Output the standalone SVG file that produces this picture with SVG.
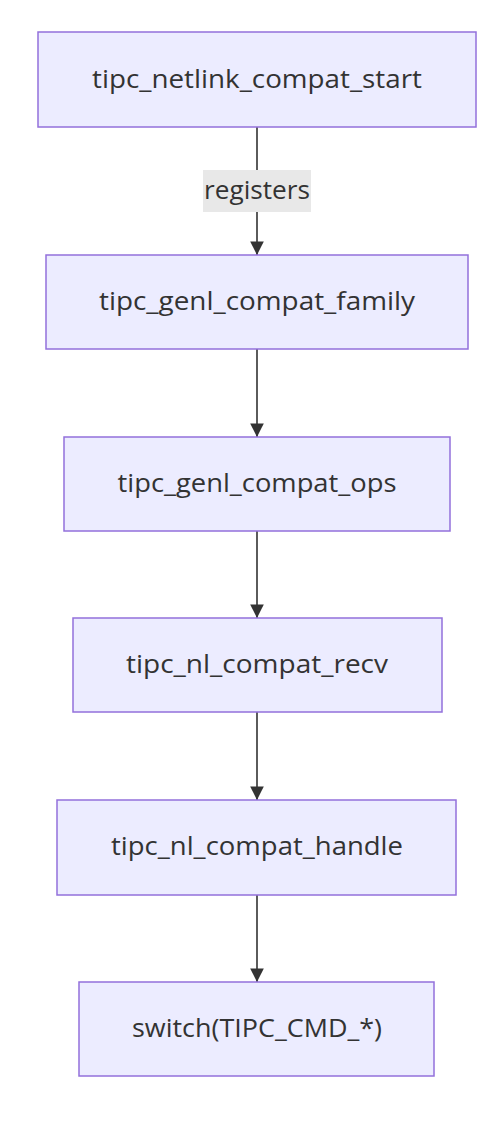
<svg xmlns="http://www.w3.org/2000/svg" width="486" height="1126" viewBox="0 0 486 1126">
<defs>
<style>
.node rect{fill:#ECECFF;stroke:#9370DB;stroke-width:1.5}
.node text,.lbl text{font-family:"Open Sans","DejaVu Sans",sans-serif;font-size:25px;fill:#333;text-anchor:middle}
.edge{stroke:#333;stroke-width:1.6;fill:none;marker-end:url(#arrow)}
.lbl rect{fill:#e8e8e8}
</style>
<marker id="arrow" viewBox="0 0 10 10" refX="10" refY="5" markerWidth="8.5" markerHeight="8.5" markerUnits="strokeWidth" orient="auto">
<path d="M0,0 L10,5 L0,10 z" fill="#333"/>
</marker>
</defs>
<rect width="486" height="1126" fill="#fff"/>
<g id="connectors">
<path class="edge" d="M257,127 V255"/>
<path class="edge" d="M257,349 V437"/>
<path class="edge" d="M257,531 V618"/>
<path class="edge" d="M257,712 V800"/>
<path class="edge" d="M257,895 V982"/>
<g class="lbl"><rect x="203" y="170" width="108" height="42"/><text x="257" y="199" textLength="106" lengthAdjust="spacingAndGlyphs">registers</text></g>
</g>
<g id="n1" class="node"><rect x="38" y="32" width="438" height="95"/><text x="257" y="88" textLength="330" lengthAdjust="spacingAndGlyphs">tipc_netlink_compat_start</text></g>
<g id="n2" class="node"><rect x="46" y="255" width="422" height="94"/><text x="257" y="310" textLength="316" lengthAdjust="spacingAndGlyphs">tipc_genl_compat_family</text></g>
<g id="n3" class="node"><rect x="64" y="437" width="386" height="94"/><text x="257" y="492" textLength="279" lengthAdjust="spacingAndGlyphs">tipc_genl_compat_ops</text></g>
<g id="n4" class="node"><rect x="73" y="618" width="369" height="94"/><text x="257" y="673" textLength="262" lengthAdjust="spacingAndGlyphs">tipc_nl_compat_recv</text></g>
<g id="n5" class="node"><rect x="57" y="800" width="399" height="95"/><text x="257" y="855" textLength="292" lengthAdjust="spacingAndGlyphs">tipc_nl_compat_handle</text></g>
<g id="n6" class="node"><rect x="79" y="982" width="355" height="94"/><text x="257" y="1037" textLength="250" lengthAdjust="spacingAndGlyphs">switch(TIPC_CMD_*)</text></g>
</svg>
